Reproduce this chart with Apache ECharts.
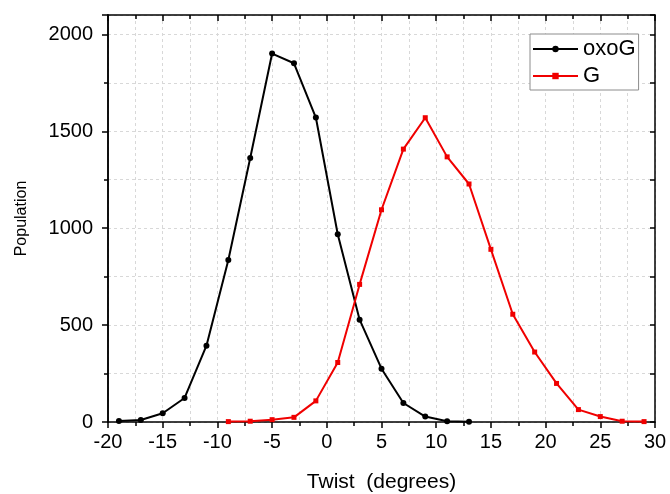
<!DOCTYPE html>
<html>
<head>
<meta charset="utf-8">
<script src="https://cdn.jsdelivr.net/npm/echarts@6/dist/echarts.min.js"></script>
<style>
html,body{margin:0;padding:0;background:#fff;}
#chart{width:670px;height:494px;}
</style>
</head>
<body>
<div id="chart"></div>
<script>
// Data
const oxoGTwist = [-19, -17, -15, -13, -11, -9, -7, -5, -3, -1, 1, 3, 5, 7, 9, 11, 13];
const oxoGPop   = [5, 10, 45, 124, 394, 836, 1362, 1901, 1851, 1571, 969, 528, 275, 98, 28, 4, 1];
const gTwist = [-9, -7, -5, -3, -1, 1, 3, 5, 7, 9, 11, 13, 15, 17, 19, 21, 23, 25, 27, 29];
const gPop   = [2, 4, 12, 24, 109, 307, 710, 1095, 1408, 1570, 1368, 1228, 891, 556, 361, 199, 64, 28, 4, 2];
const seriesNames = ['oxoG', 'G'];

const FONT = '"Liberation Sans", Arial, sans-serif';
const zip = (xs, ys) => xs.map((x, i) => [x, ys[i]]);
const gridLine = {show: true, lineStyle: {color: '#d8d8d8', width: 1, type: [3, 3]}};
const blackLine = {color: '#000', width: 1.5};

const chart = echarts.init(document.getElementById('chart'), null, {renderer: 'canvas'});
chart.setOption({
  animation: false,
  backgroundColor: '#fff',
  grid: {left: 108, right: 15, top: 15, bottom: 72, containLabel: false, outerBoundsMode: 'none'},
  legend: {
    orient: 'vertical',
    left: 530, top: 34,
    backgroundColor: '#fff',
    borderColor: '#8c8c8c', borderWidth: 1,
    padding: [4, 3, 3, 2],
    itemWidth: 45, itemHeight: 8, itemGap: 5,
    textStyle: {fontFamily: FONT, fontSize: 22, color: '#000', lineHeight: 21},
    data: seriesNames
  },
  xAxis: [
    {
      type: 'value', position: 'bottom', min: -20, max: 30, interval: 5,
      axisLine: {show: true, onZero: false, lineStyle: blackLine},
      axisTick: {show: true, inside: false, length: 6, lineStyle: blackLine},
      minorTick: {show: true, splitNumber: 2, length: 4, lineStyle: blackLine},
      splitLine: gridLine,
      minorSplitLine: gridLine,
      axisLabel: {color: '#000', fontFamily: FONT, fontSize: 20, margin: 10},
      name: 'Twist  (degrees)', nameLocation: 'middle', nameGap: 50,
      nameTextStyle: {color: '#000', fontFamily: FONT, fontSize: 21}
    },
    {
      type: 'value', position: 'top', min: -20, max: 30, interval: 5,
      axisLine: {show: true, onZero: false, lineStyle: blackLine},
      axisTick: {show: true, inside: true, length: 6, lineStyle: blackLine},
      minorTick: {show: true, splitNumber: 2, length: 4, lineStyle: blackLine},
      splitLine: {show: false},
      axisLabel: {show: false}
    }
  ],
  yAxis: [
    {
      type: 'value', position: 'left', min: 0, max: 2100, interval: 250,
      axisLine: {show: true, onZero: false, lineStyle: blackLine},
      axisTick: {show: true, inside: false, length: 4, lineStyle: blackLine},
      splitLine: gridLine,
      axisLabel: {show: false}
    },
    {
      type: 'value', position: 'left', min: 0, max: 2100, interval: 500,
      axisLine: {show: true, onZero: false, lineStyle: blackLine},
      axisTick: {show: true, inside: false, length: 6, lineStyle: blackLine},
      splitLine: {show: false},
      axisLabel: {color: '#000', fontFamily: FONT, fontSize: 20, margin: 15,
        formatter: v => (v % 500 === 0 ? String(v) : '')},
      name: 'Population', nameLocation: 'middle', nameGap: 78, nameRotate: 90,
      nameTextStyle: {color: '#000', fontFamily: FONT, fontSize: 16}
    },
    {
      type: 'value', position: 'right', min: 0, max: 2100, interval: 250,
      axisLine: {show: true, onZero: false, lineStyle: blackLine},
      axisTick: {show: true, inside: true, length: 5, lineStyle: blackLine},
      splitLine: {show: false},
      axisLabel: {show: false}
    }
  ],
  series: [
    {
      name: seriesNames[0], type: 'line', xAxisIndex: 0, yAxisIndex: 0,
      data: zip(oxoGTwist, oxoGPop),
      symbol: 'circle', symbolSize: 6,
      itemStyle: {color: '#000'},
      lineStyle: {color: '#000', width: 2}
    },
    {
      name: seriesNames[1], type: 'line', xAxisIndex: 0, yAxisIndex: 0,
      data: zip(gTwist, gPop),
      symbol: 'rect', symbolSize: 5,
      itemStyle: {color: '#f00000'},
      lineStyle: {color: '#f00000', width: 2}
    }
  ]
});
</script>
</body>
</html>
